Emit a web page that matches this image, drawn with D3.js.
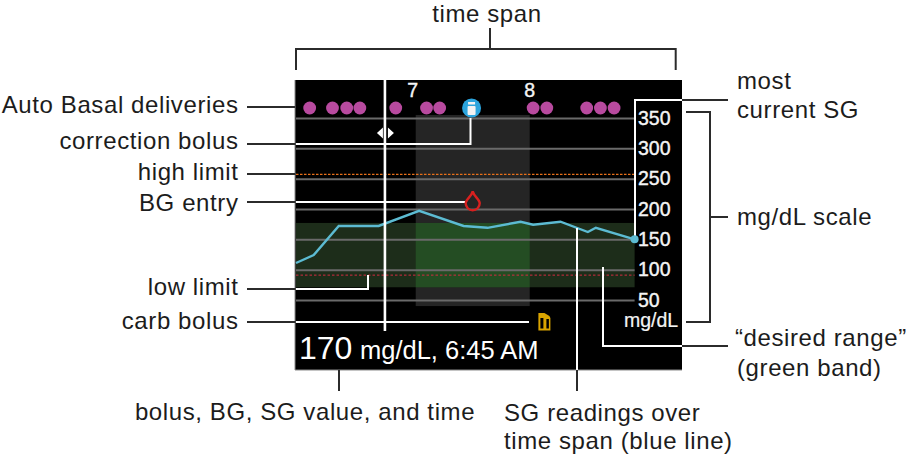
<!DOCTYPE html>
<html>
<head>
<meta charset="utf-8">
<script src="https://cdn.jsdelivr.net/npm/d3@7"></script>
<style>
  body { margin: 0; background: #fff; }
  svg { display: block; }
  text { font-family: "Liberation Sans", Arial, sans-serif; }
</style>
</head>
<body>
<svg id="chart" width="910" height="456"></svg>
<script>
// SG readings (hours of the day, mg/dL)
var sgHours = [5.95, 6.105, 6.325, 6.675, 7.03, 7.42, 7.63, 7.92, 8.03, 8.27, 8.51, 8.58, 8.92];
var sgValues = [111, 124, 172, 172, 197, 172, 169, 179, 174, 179, 162, 169, 150];
var basalHours = [6.07, 6.27, 6.395, 6.51, 6.825, 7.095, 7.21, 8.03, 8.15, 8.5, 8.62, 8.74];
var hourTicks = [7, 8];
var sgTicks = [350, 300, 250, 200, 150, 100, 50];
var desiredRange = [71, 177];
var shadeHours = [7, 8];
var shadeRange = [40, 355];
var highLimit = 257;
var lowLimit = 91;
var cursorHour = 6.73;
var bolusHour = 7.49;
var bgHour = 7.5;
var bgValue = 211;
var carbHour = 8.12;

var svg = d3.select("#chart");

var x = d3.scaleLinear().domain([5.95, 8.92]).range([296, 634.6]);
var y = d3.scaleLinear().domain([50, 350]).range([300, 118]);

// screen
svg.append("rect").attr("x", 295).attr("y", 80).attr("width", 387).attr("height", 290).attr("fill", "#000");
svg.append("path").attr("d", "M295,80V370H682").attr("fill", "none").attr("stroke", "#8a8a8a").attr("stroke-width", 1);

// grey block for the highlighted hour
svg.append("rect")
  .attr("x", x(shadeHours[0])).attr("width", x(shadeHours[1]) - x(shadeHours[0]))
  .attr("y", y(shadeRange[1])).attr("height", y(shadeRange[0]) - y(shadeRange[1]))
  .attr("fill", "#252525");

// green band, brighter inside the block
svg.append("rect")
  .attr("x", x.range()[0]).attr("width", x.range()[1] - x.range()[0])
  .attr("y", y(desiredRange[1])).attr("height", y(desiredRange[0]) - y(desiredRange[1]))
  .attr("fill", "#1d2d1a");
svg.append("rect")
  .attr("x", x(shadeHours[0])).attr("width", x(shadeHours[1]) - x(shadeHours[0]))
  .attr("y", y(desiredRange[1])).attr("height", y(desiredRange[0]) - y(desiredRange[1]))
  .attr("fill", "#244d23");

// gridlines
var grid = svg.append("g")
  .attr("transform", "translate(" + x.range()[1] + ",0)")
  .call(d3.axisLeft(y).tickValues(sgTicks).tickSize(x.range()[1] - x.range()[0]).tickFormat(""));
grid.select(".domain").remove();
grid.selectAll("line").attr("stroke", "#6a6a6a").attr("stroke-width", 2);

// limits
svg.append("line").attr("x1", x.range()[0]).attr("x2", x.range()[1])
  .attr("y1", y(highLimit)).attr("y2", y(highLimit))
  .attr("stroke", "#e8701a").attr("stroke-width", 1.2).attr("stroke-dasharray", "2.5,1.5");
svg.append("line").attr("x1", x.range()[0]).attr("x2", x.range()[1])
  .attr("y1", y(lowLimit)).attr("y2", y(lowLimit))
  .attr("stroke", "#d32b40").attr("stroke-width", 1).attr("stroke-dasharray", "2.5,2");

// y labels
var yAxis = svg.append("g")
  .attr("transform", "translate(638,0)")
  .call(d3.axisRight(y).tickValues(sgTicks).tickSize(0).tickPadding(0));
yAxis.select(".domain").remove();
yAxis.selectAll("text")
  .attr("fill", "#f4f4f4").attr("stroke", "#f4f4f4").attr("stroke-width", 0.4).attr("font-size", 19.5);
svg.append("text").attr("x", 651).attr("y", 327).attr("text-anchor", "middle")
  .attr("fill", "#f4f4f4").attr("stroke", "#f4f4f4").attr("stroke-width", 0.2).attr("font-size", 19.5).text("mg/dL");

// hour labels
svg.selectAll(".hour").data(hourTicks).enter().append("text")
  .attr("class", "hour")
  .attr("x", function(d) { return x(d) + (d == 7 ? -3 : 0); })
  .attr("y", 97)
  .attr("text-anchor", "middle").attr("fill", "#f4f4f4").attr("stroke", "#f4f4f4").attr("stroke-width", 0.4).attr("font-size", 19.5)
  .text(function(d) { return d; });

// auto basal dots
svg.selectAll(".basal").data(basalHours).enter().append("circle")
  .attr("class", "basal")
  .attr("cx", function(d) { return x(d); }).attr("cy", 108).attr("r", 6.4)
  .attr("fill", "#b84a9f");

// SG line
var line = d3.line()
  .x(function(d) { return x(d[0]); })
  .y(function(d) { return y(d[1]); });
svg.append("path").datum(d3.zip(sgHours, sgValues))
  .attr("d", line).attr("fill", "none").attr("stroke", "#5cbbd2").attr("stroke-width", 2.4);

// white leaders inside the screen
function lead(d, color, w) {
  svg.append("path").attr("d", d).attr("fill", "none").attr("stroke", color).attr("stroke-width", w || 2);
}
lead("M296,144H470.500V118", "#fff");
lead("M296,202H466", "#fff");
lead("M296,289H368V275", "#fff");
lead("M296,322H529", "#fff");
lead("M635,240V100H682", "#fff");
lead("M603,267V346H682", "#fff");
lead("M577,228V370", "#fff");

// cursor with the correction arrows
var cx = x(cursorHour);
svg.append("line").attr("x1", cx).attr("x2", cx).attr("y1", 80).attr("y2", 331)
  .attr("stroke", "#fff").attr("stroke-width", 2.6);
svg.append("path").attr("fill", "#fff")
  .attr("d", "M" + (cx - 2) + ",127.500l-6,5.500l6,5.500zM" + (cx + 3) + ",127.500l6,5.500l-6,5.500z");

// end of line marker
svg.append("circle").attr("cx", x(sgHours[sgHours.length - 1])).attr("cy", y(sgValues[sgValues.length - 1]))
  .attr("r", 4).attr("fill", "#5cbbd2");

// bolus icon
var bx = x(bolusHour);
svg.append("circle").attr("cx", bx).attr("cy", 108).attr("r", 9.5).attr("fill", "#2ba4dd");
svg.append("rect").attr("x", bx - 4).attr("y", 106).attr("width", 8).attr("height", 9).attr("rx", 1).attr("fill", "#f2f2f2");
svg.append("rect").attr("x", bx - 3.5).attr("y", 102).attr("width", 7).attr("height", 2.500).attr("fill", "#f2f2f2");

// BG drop
var gx = x(bgHour), gy = y(bgValue);
svg.append("path")
  .attr("d", "M" + gx + "," + (gy - 11) + "C" + (gx + 1) + "," + (gy - 6) + " " + (gx + 7) + "," + (gy - 3) + " " + (gx + 7) + "," + (gy + 1)
    + "A7,7 0 1 1 " + (gx - 7) + "," + (gy + 1)
    + "C" + (gx - 7) + "," + (gy - 3) + " " + (gx - 1) + "," + (gy - 6) + " " + gx + "," + (gy - 11) + "Z")
  .attr("fill", "none").attr("stroke", "#d8201f").attr("stroke-width", 2.4);

// carb icon
var kx = x(carbHour);
svg.append("path").attr("fill", "#d9a400").attr("fill-rule", "evenodd")
  .attr("d", "M" + (kx - 5) + ",313h6l5,3l1,2v12.500h-12zM" + (kx - 3) + ",318v10.500h3v-10.500zM" + (kx + 3) + ",319v9.500h2.500v-9.500z");

// dark leaders outside the screen
var dark = "#2b2b2b";
lead("M296,70V49H675.700V70", dark);
lead("M490,28V49", dark);
lead("M247,107H295", dark);
lead("M247,144H295", dark);
lead("M247,174H295", dark);
lead("M247,202H295", dark);
lead("M247,289H295", dark);
lead("M247,322H295", dark);
lead("M682,100H728", dark);
lead("M686,112H710V322H686", dark);
lead("M710,217H728", dark);
lead("M682,346H728", dark);
lead("M339,370V391", dark);
lead("M577,370V391", dark);

// screen readout
svg.append("text").attr("x", 299).attr("y", 359).attr("fill", "#fff").attr("font-size", 32).text("170");
svg.append("text").attr("x", 360).attr("y", 359).attr("fill", "#fff").attr("font-size", 25.5).text("mg/dL, 6:45 AM");

// callout labels
var labels = [
  ["time span", 487, 22, "middle"],
  ["Auto Basal deliveries", 238.5, 113, "end"],
  ["correction bolus", 238.5, 149, "end"],
  ["high limit", 238.5, 180, "end"],
  ["BG entry", 238.5, 211, "end"],
  ["low limit", 238.5, 295, "end"],
  ["carb bolus", 238.5, 329, "end"],
  ["bolus, BG, SG value, and time", 305, 420, "middle"],
  ["SG readings over", 504, 421, "start"],
  ["time span (blue line)", 504, 449, "start"],
  ["most", 737, 89, "start"],
  ["current SG", 737, 118, "start"],
  ["mg/dL scale", 737, 225, "start"],
  ["\u201cdesired range\u201d", 735, 346, "start"],
  ["(green band)", 737, 376, "start"]
];
svg.selectAll(".label").data(labels).enter().append("text")
  .attr("class", "label")
  .attr("x", function(d) { return d[1]; })
  .attr("y", function(d) { return d[2]; })
  .attr("text-anchor", function(d) { return d[3]; })
  .attr("fill", "#1c1c1c").attr("font-size", 24).attr("letter-spacing", 0.6)
  .text(function(d) { return d[0]; });
</script>
</body>
</html>
